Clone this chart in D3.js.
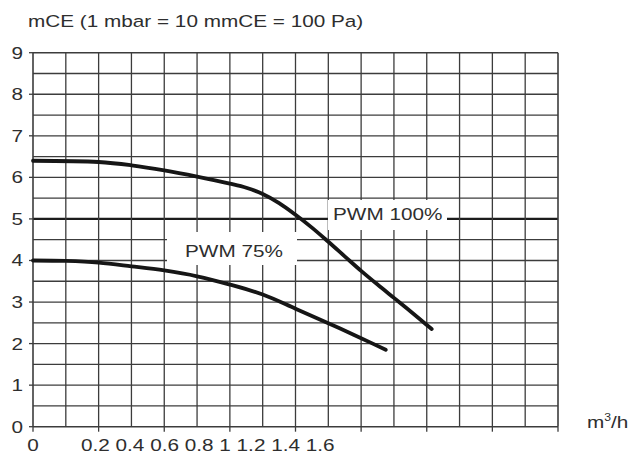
<!DOCTYPE html>
<html><head><meta charset="utf-8">
<script src="https://cdn.jsdelivr.net/npm/d3@7"></script>
<style>
body{margin:0;background:#fff}
svg{display:block}
text{font-family:"Liberation Sans",Arial,sans-serif;fill:#2e2e2e;font-size:17px}
</style>
</head><body>
<svg id="c" width="631" height="459"></svg>
<script>
// ---- data ----
const yTickLabels = [0, 1, 2, 3, 4, 5, 6, 7, 8, 9];
const xTickLabels = ["0.2", "0.4", "0.6", "0.8", "1", "1.2", "1.4", "1.6"];
const xZeroLabel = "0";
const title = "mCE (1 mbar = 10 mmCE = 100 Pa)";
const xUnit = "m";
const xUnitSup = "3";
const xUnitTail = "/h";
const pwm100Flow = [0, 0.4, 0.6, 0.8, 1.0, 1.2, 1.3, 1.4, 1.5, 1.6, 1.7, 1.8, 1.9, 2.0, 2.1, 2.2, 2.3, 2.43];
const pwm100Head = [6.4, 6.37, 6.29, 6.17, 6.02, 5.85, 5.75, 5.6, 5.38, 5.1, 4.79, 4.45, 4.1, 3.75, 3.42, 3.1, 2.78, 2.35];
const pwm75Flow = [0, 0.2, 0.4, 0.6, 0.8, 1.0, 1.2, 1.4, 1.6, 1.8, 2.0, 2.15];
const pwm75Head = [4.0, 3.99, 3.95, 3.86, 3.76, 3.62, 3.42, 3.18, 2.84, 2.49, 2.13, 1.85];
const seriesNames = ["PWM 100%", "PWM 75%"];

// ---- layout ----
const svg = d3.select("#c");
const sx = 1.22; // horizontal stretch of the lettering
const x = d3.scaleLinear().domain([0, 3.2]).range([33, 558]);
const y = d3.scaleLinear().domain([0, 9]).range([426.7, 52.7]);
const gridColor = "#3c3c3c";

function txt(px, py, str, anchor) {
  return svg.append("text")
    .attr("transform", `translate(${px},${py}) scale(${sx},1)`)
    .attr("text-anchor", anchor || "start")
    .text(str);
}

// grid: horizontal every 0.5, vertical every 0.2
const hVals = d3.range(0, 9.01, 0.5);
const vVals = d3.range(0, 3.201, 0.2);
svg.append("g").selectAll("line").data(hVals).join("line")
  .attr("x1", x(0)).attr("x2", x(3.2))
  .attr("y1", d => y(d)).attr("y2", d => y(d))
  .attr("stroke", d => d === 5 ? "#1c1c1c" : gridColor)
  .attr("stroke-width", d => d === 5 ? 2.2 : (d === 0 || d === 9 ? 1.6 : 1.3));
svg.append("g").selectAll("line").data(vVals).join("line")
  .attr("x1", d => x(d)).attr("x2", d => x(d))
  .attr("y1", y(9)).attr("y2", y(0))
  .attr("stroke", gridColor)
  .attr("stroke-width", (d, i) => (i === 0 || i === vVals.length - 1) ? 1.6 : 1.3);

// ticks
svg.append("g").selectAll("line").data(yTickLabels).join("line")
  .attr("x1", x(0) - 4).attr("x2", x(0))
  .attr("y1", d => y(d)).attr("y2", d => y(d))
  .attr("stroke", gridColor).attr("stroke-width", 1.3);
svg.append("g").selectAll("line").data(vVals.filter((d, i) => i % 2 === 0)).join("line")
  .attr("x1", d => x(d)).attr("x2", d => x(d))
  .attr("y1", y(0)).attr("y2", y(0) + 5)
  .attr("stroke", gridColor).attr("stroke-width", 1.3);

// label backgrounds (white boxes breaking the grid)
svg.append("rect").attr("x", 328).attr("y", 200).attr("width", 119).attr("height", 30).attr("fill", "#fff");
svg.append("rect").attr("x", 167).attr("y", 232).attr("width", 130).attr("height", 33).attr("fill", "#fff");

// curves
const line = d3.line().x(d => x(d[0])).y(d => y(d[1])).curve(d3.curveCatmullRom.alpha(0.5));
const s100 = pwm100Flow.map((f, i) => [f, pwm100Head[i]]);
const s75 = pwm75Flow.map((f, i) => [f, pwm75Head[i]]);
[s100, s75].forEach(s => {
  svg.append("path").attr("d", line(s))
    .attr("fill", "none").attr("stroke", "#161616")
    .attr("stroke-width", 3.8).attr("stroke-linecap", "round")
    .attr("stroke-linejoin", "round");
});

// y labels
yTickLabels.forEach(v => {
  txt(23, y(v) + 6, String(v), "end");
});

// x labels
txt(x(0), 451, xZeroLabel, "middle");
txt(81, 451, xTickLabels.join(" "), "start");

// title & unit
txt(28, 27, title, "start");
const u = svg.append("text")
  .attr("transform", `translate(587,428) scale(${sx},1)`);
u.append("tspan").text(xUnit);
u.append("tspan").attr("dy", -7).style("font-size", "10px").text(xUnitSup);
u.append("tspan").attr("dy", 7).text(xUnitTail);

// series labels
txt(333, 220, seriesNames[0], "start");
txt(185, 257, seriesNames[1], "start");
</script>
</body></html>
